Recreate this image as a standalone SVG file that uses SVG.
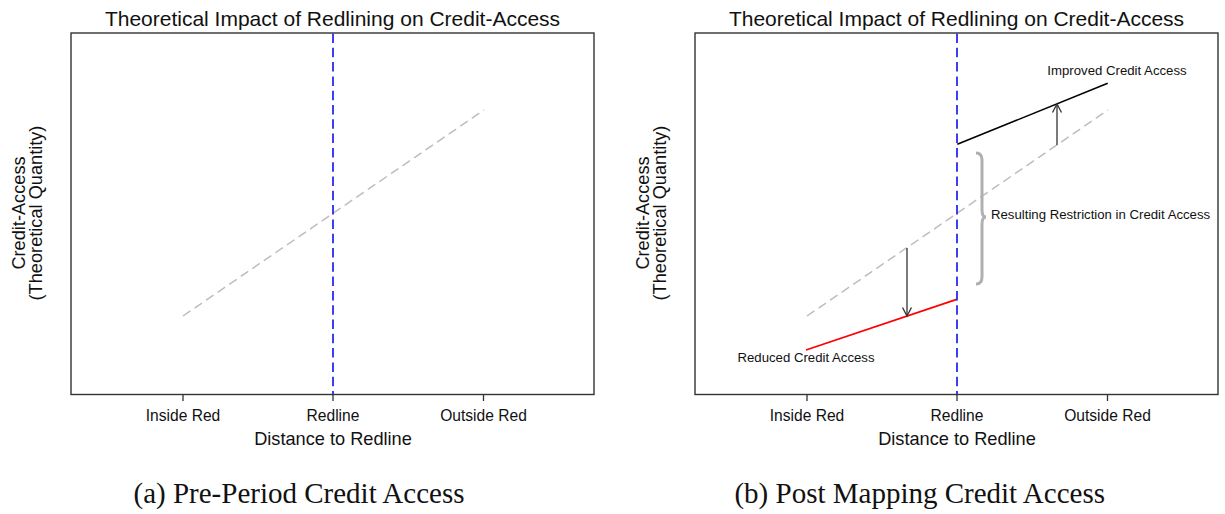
<svg xmlns="http://www.w3.org/2000/svg" width="1225" height="514" viewBox="0 0 1225 514">
  <style>
    .frame { fill: none; stroke: #333; stroke-width: 1.4; }
    .tick { stroke: #333; stroke-width: 1.3; }
    .title { font-family: "Liberation Sans", Arial, sans-serif; font-size: 21px; fill: #111; text-anchor: middle; }
    .ticklab { font-family: "Liberation Sans", Arial, sans-serif; font-size: 15.6px; fill: #111; text-anchor: middle; }
    .axlab { font-family: "Liberation Sans", Arial, sans-serif; font-size: 18.2px; fill: #111; text-anchor: middle; }
    .note { font-family: "Liberation Sans", Arial, sans-serif; font-size: 13.2px; fill: #111; }
    .caption { font-family: "Liberation Serif", "Times New Roman", serif; font-size: 29px; fill: #111; text-anchor: middle; }
    .redline { stroke: #2b2bf0; stroke-width: 1.8; stroke-dasharray: 9.5 4.8; fill: none; }
    .baseline { stroke: #bdbdbd; stroke-width: 1.5; stroke-dasharray: 9 5; fill: none; }
    .shift { stroke: #333; stroke-width: 1.3; fill: none; marker-end: url(#head); }
  </style>
  <defs>
    <marker id="head" markerUnits="userSpaceOnUse" viewBox="-10 -6 12 12" refX="0" refY="0" markerWidth="12" markerHeight="12" orient="auto">
      <path d="M-8.5,-4.5 L0,0 L-8.5,4.5" fill="none" stroke="#333" stroke-width="1.3"/>
    </marker>
  </defs>

  <!-- Panel (a): pre-period -->
  <g id="panel-a">
    <text class="title" x="332.5" y="26">Theoretical Impact of Redlining on Credit-Access</text>
    <rect class="frame" x="71" y="33" width="523" height="361.5"/>
    <line class="tick" x1="183" y1="394.5" x2="183" y2="401"/>
    <line class="tick" x1="333" y1="394.5" x2="333" y2="401"/>
    <line class="tick" x1="483.5" y1="394.5" x2="483.5" y2="401"/>
    <text class="ticklab" x="183" y="421">Inside Red</text>
    <text class="ticklab" x="333" y="421">Redline</text>
    <text class="ticklab" x="483.5" y="421">Outside Red</text>
    <text class="axlab" x="333" y="445">Distance to Redline</text>
    <text class="axlab" transform="translate(25,213) rotate(-90)">Credit-Access</text>
    <text class="axlab" transform="translate(42,213) rotate(-90)">(Theoretical Quantity)</text>
    <line class="baseline" x1="183" y1="316" x2="484" y2="110"/>
    <line class="redline" x1="333" y1="33.5" x2="333" y2="394"/>
    <text class="caption" x="299" y="503">(a) Pre-Period Credit Access</text>
  </g>

  <!-- Panel (b): after mapping -->
  <g id="panel-b">
    <text class="title" x="956.5" y="26">Theoretical Impact of Redlining on Credit-Access</text>
    <rect class="frame" x="695" y="33" width="523" height="361.5"/>
    <line class="tick" x1="807" y1="394.5" x2="807" y2="401"/>
    <line class="tick" x1="957" y1="394.5" x2="957" y2="401"/>
    <line class="tick" x1="1107.5" y1="394.5" x2="1107.5" y2="401"/>
    <text class="ticklab" x="807" y="421">Inside Red</text>
    <text class="ticklab" x="957" y="421">Redline</text>
    <text class="ticklab" x="1107.5" y="421">Outside Red</text>
    <text class="axlab" x="957" y="445">Distance to Redline</text>
    <text class="axlab" transform="translate(649,213) rotate(-90)">Credit-Access</text>
    <text class="axlab" transform="translate(666,213) rotate(-90)">(Theoretical Quantity)</text>
    <line class="baseline" x1="807" y1="316" x2="1108" y2="110"/>
    <line id="improved" x1="957.3" y1="144.3" x2="1107.7" y2="83.3" stroke="#000" stroke-width="1.6"/>
    <line id="reduced" x1="806" y1="350" x2="956.7" y2="299.3" stroke="#f00" stroke-width="1.8"/>
    <line class="redline" x1="957" y1="33.5" x2="957" y2="394"/>
    <text class="note" x="1117" y="75" text-anchor="middle">Improved Credit Access</text>
    <text class="note" x="806" y="362" text-anchor="middle">Reduced Credit Access</text>
    <text class="note" x="991" y="219">Resulting Restriction in Credit Access</text>
    <path id="brace" d="M976,153 Q982,153 982,160 L982,210 Q982,217 986,217 Q982,217 982,224 L982,277 Q982,284 976,284" fill="none" stroke="#b0b0b0" stroke-width="3"/>
    <text class="caption" x="919.7" y="503">(b) Post Mapping Credit Access</text>
  </g>

  <!-- Shift arrows between the pre-period line and the new access lines -->
  <g id="connectors">
    <line class="shift" x1="1057" y1="145" x2="1057" y2="104"/>
    <line class="shift" x1="907" y1="248" x2="907" y2="316"/>
  </g>
</svg>
